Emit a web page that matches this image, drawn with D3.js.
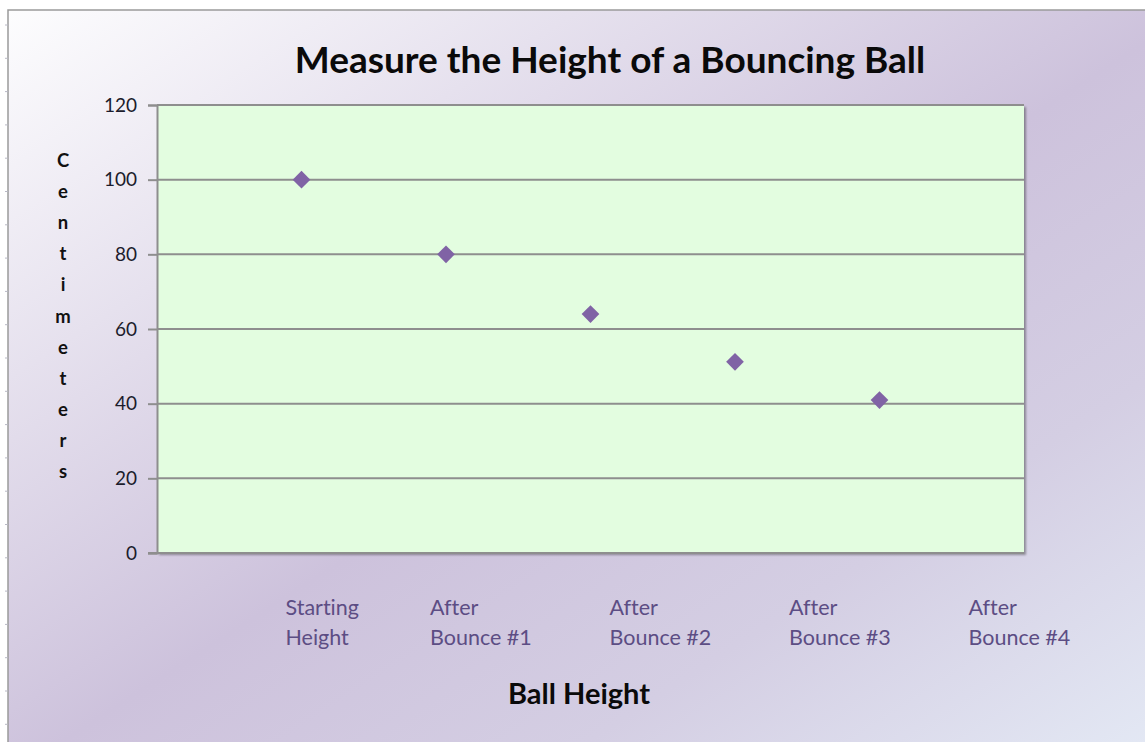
<!DOCTYPE html>
<html>
<head>
<meta charset="utf-8">
<script src="https://cdn.jsdelivr.net/npm/d3@7"></script>
<style>
  html, body { margin: 0; padding: 0; background: #ffffff; }
  svg { display: block; }
  text { font-variant-ligatures: none; font-feature-settings: "liga" 0; }
</style>
</head>
<body>
<svg id="chart" width="1145" height="742"></svg>
<script>
// Ball height after each bounce (cm)
const categories = [
  ["Starting", "Height"],
  ["After", "Bounce #1"],
  ["After", "Bounce #2"],
  ["After", "Bounce #3"],
  ["After", "Bounce #4"]
];
const heights = [100, 80, 64, 51.2, 40.96];
const yTicks = [0, 20, 40, 60, 80, 100, 120];
const chartTitle = "Measure the Height of a Bouncing Ball";
const xTitle = "Ball Height";
const yTitle = "Centimeters";

const W = 1145, H = 742;
const FONT = "Lato, 'Open Sans', sans-serif";
const svg = d3.select("#chart");
const defs = svg.append("defs");

// Chart background: diagonal white → lavender → pale blue
const bg = defs.append("linearGradient")
  .attr("id", "bgGrad")
  .attr("x1", 0).attr("y1", 0).attr("x2", 1).attr("y2", 1);
[[0, "#fdfdfe"], [0.25, "#e6e1ee"], [0.52, "#cdc2dc"], [0.75, "#d4cee3"], [1, "#e3e8f4"]]
  .forEach(([o, c]) => bg.append("stop").attr("offset", o).attr("stop-color", c));

const shadow = defs.append("filter").attr("id", "plotShadow")
  .attr("x", "-5%").attr("y", "-5%").attr("width", "110%").attr("height", "110%");
shadow.append("feDropShadow")
  .attr("dx", 2).attr("dy", 2).attr("stdDeviation", 1)
  .attr("flood-color", "#000").attr("flood-opacity", 0.35);

// Outer chart frame
const frame = { x: 8, y: 10 };
svg.append("rect")
  .attr("x", frame.x).attr("y", frame.y)
  .attr("width", W - frame.x + 5).attr("height", H - frame.y + 5)
  .attr("fill", "url(#bgGrad)")
  .attr("stroke", "#9a9a9a").attr("stroke-width", 1.5);

// faint sheet row marks left of the frame
svg.append("g").selectAll("line")
  .data(d3.range(25, H, 33.3))
  .join("line")
  .attr("x1", 5).attr("x2", 8)
  .attr("y1", d => d).attr("y2", d => d)
  .attr("stroke", "#b8b8c4").attr("stroke-width", 1);

// Plot area
const plot = { left: 157, right: 1024, top: 105, bottom: 553 };
const x = d3.scaleLinear().domain([0, categories.length + 1]).range([plot.left, plot.right]);
const y = d3.scaleLinear().domain([0, 120]).range([plot.bottom, plot.top]);

svg.append("rect")
  .attr("x", plot.left).attr("y", plot.top)
  .attr("width", plot.right - plot.left).attr("height", plot.bottom - plot.top)
  .attr("fill", "#e3fde0")
  .attr("filter", "url(#plotShadow)");

// Horizontal gridlines
svg.append("g").selectAll("line")
  .data(yTicks.filter(t => t > 0))
  .join("line")
  .attr("x1", plot.left).attr("x2", plot.right)
  .attr("y1", d => y(d)).attr("y2", d => y(d))
  .attr("stroke", "#8e8e8e").attr("stroke-width", 2);

// Y axis
const yAxis = svg.append("g")
  .attr("transform", `translate(${plot.left},0)`)
  .call(d3.axisLeft(y).tickValues(yTicks).tickSize(9).tickPadding(11).tickFormat(d3.format("d")));
yAxis.select(".domain").attr("stroke", "#8e8e8e").attr("stroke-width", 2);
yAxis.selectAll(".tick line").attr("stroke", "#8e8e8e").attr("stroke-width", 2);
yAxis.selectAll(".tick text")
  .attr("fill", "#1c1c2c")
  .style("font-family", FONT)
  .style("font-size", "19px");

// X axis baseline
svg.append("line")
  .attr("x1", plot.left - 9).attr("x2", plot.right)
  .attr("y1", y(0)).attr("y2", y(0))
  .attr("stroke", "#8e8e8e").attr("stroke-width", 2);

// Data markers (diamonds)
const diamond = d3.symbol().type(d3.symbolDiamond2).size(200);
svg.append("g").selectAll("path")
  .data(heights)
  .join("path")
  .attr("d", diamond)
  .attr("transform", (d, i) => `translate(${x(i + 1)},${y(d)})`)
  .attr("fill", "#8063a5");

// Category labels (two lines, left-aligned, wrapped as in the sheet)
const catG = svg.append("g")
  .style("font-family", FONT)
  .style("font-size", "21.5px")
  .attr("fill", "#5c4d84");
categories.forEach((lines, i) => {
  const lx = x(i + 1) - 16 + (i >= 2 ? (i - 1) * 35 : 0);
  const t = catG.append("text").attr("x", lx).attr("y", 615);
  lines.forEach((ln, k) => {
    t.append("tspan").attr("x", lx).attr("dy", k === 0 ? 0 : 30).text(ln);
  });
});

// Titles
svg.append("text")
  .attr("x", 610).attr("y", 73)
  .attr("text-anchor", "middle")
  .style("font-family", FONT)
  .style("font-weight", "bold")
  .style("font-size", "37px")
  .attr("fill", "#0a0a0a")
  .text(chartTitle);

svg.append("text")
  .attr("x", 579).attr("y", 704)
  .attr("text-anchor", "middle")
  .style("font-family", FONT)
  .style("font-weight", "bold")
  .style("font-size", "29px")
  .attr("fill", "#0a0a0a")
  .text(xTitle);

// Vertical stacked y-axis title
svg.append("g").selectAll("text")
  .data(yTitle.split(""))
  .join("text")
  .attr("x", 63)
  .attr("y", (d, i) => 167 + i * 31.1)
  .attr("text-anchor", "middle")
  .style("font-family", FONT)
  .style("font-weight", "bold")
  .style("font-size", "18.5px")
  .attr("fill", "#111")
  .text(d => d);
</script>
</body>
</html>
